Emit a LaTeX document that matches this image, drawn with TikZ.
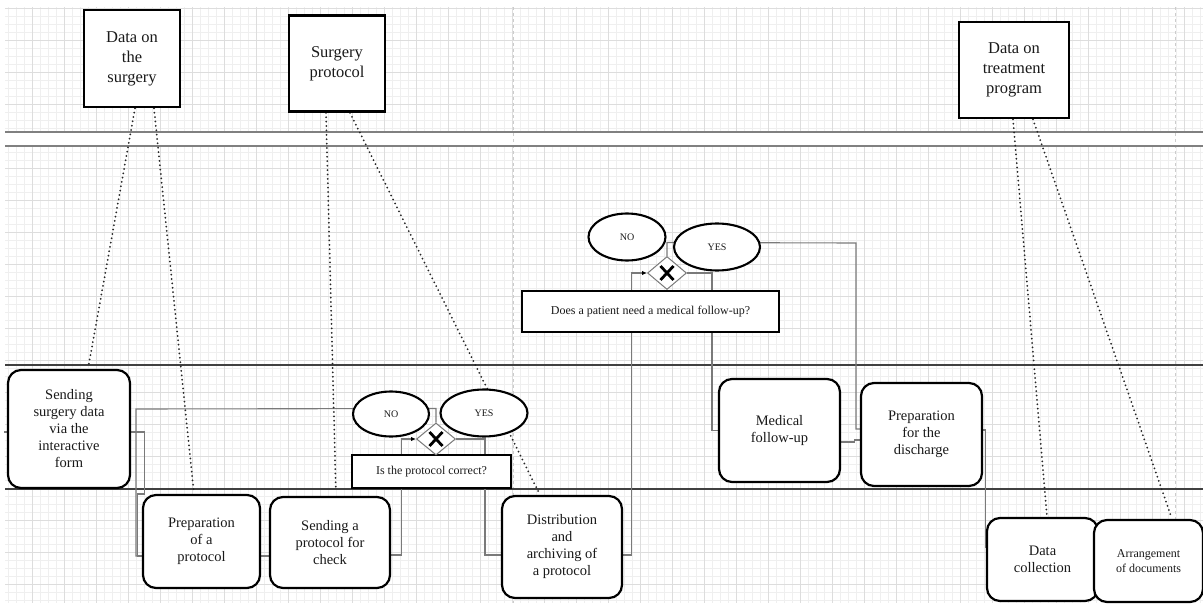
\documentclass[tikz,border=0pt]{standalone}
\usepackage{fontspec}
\setmainfont{Liberation Serif}
\usetikzlibrary{shapes.geometric,arrows.meta,backgrounds}

\definecolor{gridminor}{HTML}{EFEFEF}
\definecolor{gridmajor}{HTML}{DDDDDD}
\definecolor{flowgray}{HTML}{7A7A7A}
\definecolor{pagebreak}{HTML}{CCCCCC}
\definecolor{inktext}{HTML}{1A1A1A}

\begin{document}
\begin{tikzpicture}[x=1pt,y=-1pt,
  every node/.style={inner sep=0pt, align=center, text=inktext},
  databox/.style={draw, line width=2.7pt, fill=white, font=\fontsize{16.5}{20}\selectfont},
  taskbox/.style={draw, line width=2.2pt, rounded corners=13pt, fill=white, font=\fontsize{14.5}{17}\selectfont},
  question/.style={draw, line width=2.6pt, fill=white, font=\fontsize{12}{14}\selectfont},
  answer/.style={ellipse, draw, line width=2.1pt, fill=white, font=\fontsize{10}{12}\selectfont},
  gateway/.style={diamond, draw=flowgray, line width=1pt, fill=white},
  xmark/.style={line width=2.8pt, black},
  flow/.style={draw=flowgray, line width=1.1pt},
  flowarrow/.style={flow, -{Latex[length=5pt,width=4.5pt,color=black]}},
  assoc/.style={draw=black!85, line width=2pt, dash pattern=on 0pt off 4.4pt, line cap=round},
  lanethick/.style={draw=black!50, line width=2pt},
  lanethin/.style={draw=black!75, line width=1.2pt}
]
\useasboundingbox (0,0) rectangle (1203,610);

% data objects
\node[databox, minimum width=96pt, minimum height=97pt] (dsurg) at (132,58.5) {Data on\\the\\surgery};
\node[databox, minimum width=96pt, minimum height=96pt] (sprot) at (337,63.5) {Surgery\\protocol};
\node[databox, minimum width=110pt, minimum height=96pt] (dtreat) at (1014,70) {Data on\\treatment\\program};

% tasks
\node[taskbox, minimum width=122pt, minimum height=118pt] (sendsurg) at (69,429) {Sending\\surgery data\\via the\\interactive\\form};
\node[taskbox, minimum width=117pt, minimum height=93pt] (prep) at (201.5,541.5) {Preparation\\of a\\protocol};
\node[taskbox, minimum width=120pt, minimum height=91pt] (sendprot) at (330,542.5) {Sending a\\protocol for\\check};
\node[taskbox, minimum width=120pt, minimum height=102pt] (distr) at (562,547) {Distribution\\and\\archiving of\\a protocol};
\node[taskbox, minimum width=121pt, minimum height=103pt] (medfu) at (779.5,430.5) {Medical\\follow-up};
\node[taskbox, minimum width=121pt, minimum height=103pt] (prepdis) at (921.5,434.5) {Preparation\\for the\\discharge};
\node[taskbox, minimum width=111pt, minimum height=83pt] (datacoll) at (1042.5,559.5) {Data\\collection};
\node[taskbox, minimum width=109pt, minimum height=82pt, font=\fontsize{12}{14.5}\selectfont] (arrange) at (1148.5,561) {Arrangement\\of documents};

% decisions
\node[question, minimum width=159pt, minimum height=33pt] (q1) at (431.5,471.5) {Is the protocol correct?};
\node[question, minimum width=257pt, minimum height=41pt] (q2) at (650.5,311.5) {Does a patient need a medical follow-up?};
\node[gateway, minimum width=39pt, minimum height=32pt] (g1) at (436,439) {};
\node[gateway, minimum width=39pt, minimum height=33pt] (g2) at (667,273) {};
\node[answer, minimum width=76pt, minimum height=45pt] (no1) at (391,414) {NO};
\node[answer, minimum width=87pt, minimum height=47pt] (yes1) at (484,413) {YES};
\node[answer, minimum width=77pt, minimum height=47pt] (no2) at (627,237) {NO};
\node[answer, minimum width=86pt, minimum height=47pt] (yes2) at (717,247) {YES};

% exclusive gateway crosses
\foreach \g in {g1,g2} {
  \draw[xmark] ([shift={(-6.5,-7)}]\g.center) -- ([shift={(6.5,7)}]\g.center)
               ([shift={(-6.5,7)}]\g.center) -- ([shift={(6.5,-7)}]\g.center);
}

\begin{pgfonlayer}{background}
  % drawing grid
  \foreach \x in {8,16,...,1200} \draw[gridminor, line width=0.8pt] (\x,7) -- (\x,603);
  \foreach \y in {8,16,...,600} \draw[gridminor, line width=0.8pt] (5,\y) -- (1203,\y);
  \foreach \x in {32,64,...,1184} \draw[gridmajor, line width=0.9pt] (\x,7) -- (\x,603);
  \foreach \y in {8,40,...,584} \draw[gridmajor, line width=0.9pt] (5,\y) -- (1203,\y);
  \fill[white] (5,132) rectangle (1203,146);
  % page breaks
  \foreach \x in {513,1175} \draw[pagebreak, line width=1pt, dash pattern=on 3pt off 3pt] (\x,7) -- (\x,603);
  % lanes
  \draw[lanethick] (5,132) -- (1203,132);
  \draw[lanethick] (5,146) -- (1203,146);
  \draw[lanethin] (5,365) -- (1203,365);
  \draw[lanethin] (5,489) -- (1203,489);

  % sequence flows
  \coordinate (inflow) at (4,432);
  \draw[flow] (inflow) -- ([yshift=-3pt]sendsurg.west);
  \draw[flow] ([yshift=-3pt]sendsurg.east) -- ++(13,0) -- ++(0,62) -- ++(-7,0) |- ([yshift=-14.5pt]prep.west);
  \draw[flow] (g1.north) -- ++(0,-14) -- (136,409) -- (136,556) -- ([yshift=-14.5pt]prep.west);
  \draw[flow] ([yshift=-14.5pt]prep.east) -- ([yshift=-13.5pt]sendprot.west);
  \draw[flowarrow] ([yshift=-12.5pt]sendprot.east) -- ++(10,0) |- (g1.west);
  \draw[flow] (g1.east) -- ++(29,0) |- ([yshift=-8pt]distr.west);
  \draw[flowarrow] ([yshift=-8pt]distr.east) -- ++(8,0) |- (g2.west);
  \draw[flow] (g2.east) -- ++(25,0) |- (medfu.west);
  \draw[flow] (g2.north) -- ++(0,-13.5) -- (856,243) -- (856,429) -- ([yshift=5.5pt]prepdis.west);
  \draw[flow] ([yshift=-11.5pt]medfu.east) -- ++(13,0) -- ++(0,-2) -- ([yshift=-5.5pt]prepdis.west);
  \draw[flow] ([yshift=4.5pt]prepdis.east) -- ++(2,0) |- ([yshift=12.5pt]datacoll.west);

  % data associations
  \draw[assoc, shorten >=5pt] ([xshift=3pt]dsurg.south) -- ([xshift=19pt]sendsurg.north);
  \draw[assoc, shorten >=4pt] ([xshift=22pt]dsurg.south) -- ([xshift=-7.5pt]prep.north);
  \draw[assoc, shorten >=7pt] ([xshift=-11pt]sprot.south) -- ([xshift=6pt]sendprot.north);
  \draw[assoc, shorten >=4pt] ([xshift=13pt]sprot.south) -- ([xshift=-22pt]distr.north);
  \draw[assoc, shorten >=3pt] ([xshift=-1pt]dtreat.south) -- ([xshift=4.5pt]datacoll.north);
  \draw[assoc, shorten >=5pt] ([xshift=19pt]dtreat.south) -- ([xshift=23.5pt]arrange.north);
\end{pgfonlayer}
\end{tikzpicture}
\end{document}
